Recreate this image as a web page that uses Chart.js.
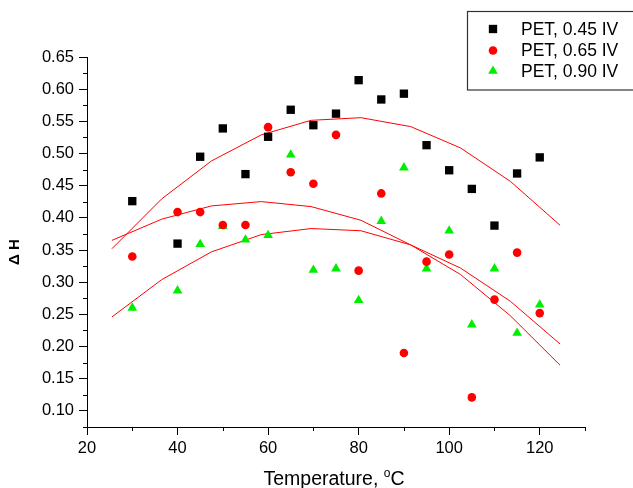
<!DOCTYPE html>
<html>
<head>
<meta charset="utf-8">
<script src="https://cdn.jsdelivr.net/npm/chart.js@4.4.1/dist/chart.umd.min.js"></script>
<style>
  html, body { margin: 0; padding: 0; background: #fff; }
  #wrap { width: 633px; height: 488px; }
</style>
</head>
<body>
<div id="wrap"><canvas id="dh" width="633" height="488"></canvas></div>
<script>
// measured points
const temps = [30, 40, 45, 50, 55, 60, 65, 70, 75, 80, 85, 90, 95, 100, 105, 110, 115, 120];
const pet45 = [0.426, 0.360, 0.495, 0.539, 0.468, 0.526, 0.568, 0.544, 0.562, 0.614, 0.584, 0.593, 0.513, 0.474, 0.445, 0.388, 0.469, 0.494];
const pet65 = [0.340, 0.409, 0.409, 0.389, 0.389, 0.541, 0.471, 0.453, 0.529, 0.318, 0.438, 0.190, 0.332, 0.343, 0.121, 0.273, 0.346, 0.252];
const pet90 = [0.260, 0.287, 0.359, 0.387, 0.366, 0.373, 0.498, 0.319, 0.321, 0.272, 0.395, 0.478, 0.321, 0.380, 0.234, 0.321, 0.221, 0.265];

// fitted curves (red lines)
const fitTemps = [25.5, 36.5, 47.5, 58.5, 69.5, 80.5, 91.5, 102.5, 113.5, 124.5];
const fit45 = [0.352, 0.4295, 0.4885, 0.529, 0.5516, 0.5557, 0.5418, 0.5087, 0.4568, 0.3885];
const fit65 = [0.365, 0.398, 0.4186, 0.4253, 0.4175, 0.3963, 0.358, 0.312, 0.248, 0.171];
const fit90 = [0.246, 0.304, 0.3472, 0.374, 0.3834, 0.380, 0.358, 0.322, 0.2705, 0.204];

const seriesNames = ['PET, 0.45 IV', 'PET, 0.65 IV', 'PET, 0.90 IV'];

const xMin = 20, xMax = 130, xStep = 10;
const yMin = 0.075, yMax = 0.65, yStep = 0.025;

const FONT = '"Liberation Sans", Arial, Helvetica, sans-serif';

const pts = (xs, ys) => xs.map((x, i) => ({ x: x, y: ys[i] }));

function pointSet(label, ys, style, color, radius) {
  return {
    label: label,
    data: pts(temps, ys),
    pointStyle: style,
    pointRadius: radius,
    pointBackgroundColor: color,
    pointBorderColor: color,
    pointBorderWidth: 0,
    showLine: false,
    order: 1
  };
}

function fitSet(ys) {
  return {
    label: '',
    data: pts(fitTemps, ys),
    showLine: true,
    borderColor: '#ff0000',
    borderWidth: 1,
    pointRadius: 0,
    fill: false,
    order: 2
  };
}

const isMajorX = v => Math.round(v) % 20 === 0 && v < 130;
const isMajorY = v => Math.round(v * 1000) % 50 === 0;

// short ticks between labelled ones, ΔH title, x title and the boxed legend
const decorations = {
  id: 'decorations',
  afterDraw(chart) {
    const ctx = chart.ctx;
    const xs = chart.scales.x, ys = chart.scales.y;
    const area = chart.chartArea;
    ctx.save();
    ctx.strokeStyle = '#000';
    ctx.lineWidth = 1;
    ctx.beginPath();
    xs.ticks.forEach(t => {
      if (isMajorX(t.value)) return;
      const px = Math.round(xs.getPixelForValue(t.value)) + 0.5;
      ctx.moveTo(px, area.bottom);
      ctx.lineTo(px, area.bottom + 4);
    });
    ys.ticks.forEach(t => {
      if (isMajorY(t.value)) return;
      const py = Math.round(ys.getPixelForValue(t.value)) + 0.5;
      ctx.moveTo(area.left, py);
      ctx.lineTo(area.left - 4, py);
    });
    ctx.stroke();

    // y title
    ctx.fillStyle = '#000';
    ctx.save();
    ctx.translate(15, 252);
    ctx.rotate(-Math.PI / 2);
    ctx.font = 'bold 15px ' + FONT;
    ctx.textAlign = 'center';
    ctx.textBaseline = 'middle';
    ctx.fillText('\u0394 H', 0, 0);
    ctx.restore();

    // x title with superscript o
    const main = 'Temperature, ';
    ctx.font = '19.5px ' + FONT;
    const w1 = ctx.measureText(main).width;
    const wC = ctx.measureText('C').width;
    ctx.font = '12px ' + FONT;
    const wo = ctx.measureText('o').width;
    const total = w1 + wo + wC;
    let x0 = 334 - total / 2;
    ctx.textAlign = 'left';
    ctx.textBaseline = 'alphabetic';
    ctx.font = '19.5px ' + FONT;
    ctx.fillText(main, x0, 485);
    ctx.font = '12px ' + FONT;
    ctx.fillText('o', x0 + w1, 477);
    ctx.font = '19.5px ' + FONT;
    ctx.fillText('C', x0 + w1 + wo, 485);

    // legend
    ctx.strokeStyle = '#333';
    ctx.lineWidth = 1.2;
    ctx.strokeRect(467.5, 11.5, 180, 78.5);
    const rowsY = [29, 50.5, 71];
    ctx.font = '17.5px ' + FONT;
    ctx.textBaseline = 'middle';
    [0, 1, 2].forEach(i => {
      const ds = chart.data.datasets[i];
      const mx = 493, my = rowsY[i];
      ctx.fillStyle = ds.pointBackgroundColor;
      ctx.beginPath();
      if (ds.pointStyle === 'rect') {
        const s = ds.pointRadius * Math.SQRT1_2;
        ctx.rect(mx - s, my - s, 2 * s, 2 * s);
      } else if (ds.pointStyle === 'circle') {
        ctx.arc(mx, my, ds.pointRadius, 0, Math.PI * 2);
      } else {
        const r = ds.pointRadius;
        ctx.moveTo(mx, my - r);
        ctx.lineTo(mx + r * 0.866, my + r / 2);
        ctx.lineTo(mx - r * 0.866, my + r / 2);
        ctx.closePath();
      }
      ctx.fill();
      ctx.fillStyle = '#000';
      ctx.fillText(seriesNames[i], 521, my + 1);
    });
    ctx.restore();
  }
};

new Chart(document.getElementById('dh'), {
  type: 'scatter',
  data: {
    datasets: [
      pointSet(seriesNames[0], pet45, 'rect', '#000000', 5.9),
      pointSet(seriesNames[1], pet65, 'circle', '#ff0000', 4.3),
      pointSet(seriesNames[2], pet90, 'triangle', '#00ee00', 5.6),
      fitSet(fit45),
      fitSet(fit65),
      fitSet(fit90)
    ]
  },
  options: {
    responsive: false,
    animation: false,
    devicePixelRatio: 1,
    layout: { padding: { left: 0, top: 57, right: 48, bottom: 0 } },
    plugins: {
      legend: { display: false },
      tooltip: { enabled: false },
      title: { display: false }
    },
    scales: {
      x: {
        type: 'linear',
        min: xMin,
        max: xMax,
        ticks: {
          stepSize: xStep,
          autoSkip: false,
          maxRotation: 0,
          padding: 4,
          color: '#000',
          font: { family: FONT, size: 16.5 },
          callback: v => (isMajorX(v) ? String(v) : '')
        },
        grid: {
          drawOnChartArea: false,
          drawTicks: true,
          tickLength: 8,
          color: c => (c.tick && isMajorX(c.tick.value) ? '#000' : 'rgba(0,0,0,0)'),
          lineWidth: 1
        },
        border: { display: true, color: '#000', width: 1 },
        afterFit: s => { s.height = 61; }
      },
      y: {
        type: 'linear',
        min: yMin,
        max: yMax,
        ticks: {
          stepSize: yStep,
          autoSkip: false,
          padding: 5,
          color: '#000',
          font: { family: FONT, size: 16.5 },
          callback: v => (isMajorY(v) ? v.toFixed(2) : '')
        },
        grid: {
          drawOnChartArea: false,
          drawTicks: true,
          tickLength: 8,
          color: c => (c.tick && isMajorY(c.tick.value) ? '#000' : 'rgba(0,0,0,0)'),
          lineWidth: 1
        },
        border: { display: true, color: '#000', width: 1 },
        afterFit: s => { s.width = 87; }
      }
    }
  },
  plugins: [decorations]
});
</script>
</body>
</html>
